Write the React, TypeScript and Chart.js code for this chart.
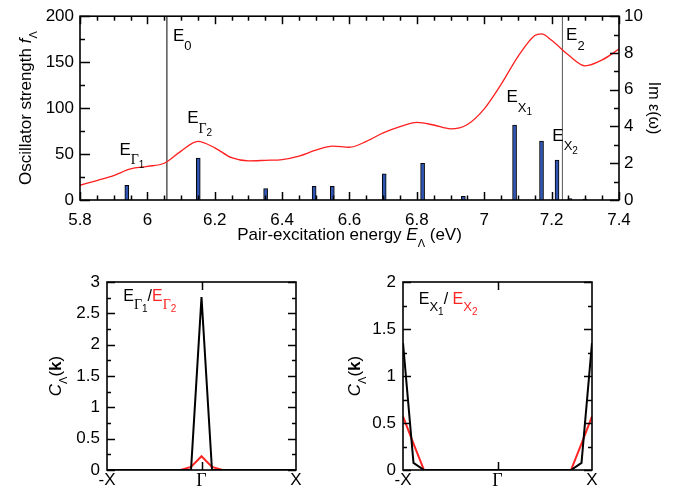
import { useEffect, useRef } from "react";
import { Chart, registerables } from "chart.js";

Chart.register(...registerables);

const SANS = '"Liberation Sans", Arial, Helvetica, sans-serif';
const SERIF = '"Liberation Serif", "Times New Roman", serif';

// ---------- Top panel data ----------
const transitionEnergies = [5.939, 6.151, 6.351, 6.495, 6.549, 6.703, 6.817, 6.938, 7.09, 7.17, 7.216, 7.254, 7.299];
const oscillatorStrengths = [16, 45.5, 12.5, 15, 15, 28.5, 40, 4, 81.5, 64, 43.5, 1.5, 1];

const spectrumEnergies = [
  5.8, 5.85, 5.9, 5.95, 6.0, 6.05, 6.1, 6.15, 6.2, 6.25, 6.3, 6.35, 6.4, 6.45, 6.5, 6.55, 6.6,
  6.65, 6.7, 6.75, 6.8, 6.85, 6.9, 6.95, 7.0, 7.05, 7.1, 7.15, 7.17, 7.2, 7.25, 7.3, 7.35, 7.4,
];
const imEpsilon = [
  0.8, 1.06, 1.33, 1.69, 1.83, 2.0, 2.66, 3.19, 2.84, 2.3, 2.13, 2.16, 2.2, 2.39, 2.71, 2.93, 2.87,
  3.19, 3.65, 3.99, 4.22, 4.08, 3.87, 4.11, 4.96, 6.29, 7.8, 8.95, 9.04, 8.69, 7.89, 7.3, 7.62, 8.21,
];

const criticalPointEnergies = [6.058, 7.232];
const criticalPointNames = ["E0", "E2"];

// annotation labels: [text, role] pieces, anchored in data units (x in eV, y in f units)
const topLabelX = [6.076, 5.917, 6.118, 7.066, 7.202, 7.243];
const topLabelY = [173.5, 49, 83.5, 106.5, 64.5, 173.7];
const topLabelParts: [string, string][][] = [
  [["E", "main"], ["0", "sub"]],
  [["E", "main"], ["Γ", "subG"], ["1", "subsub"]],
  [["E", "main"], ["Γ", "subG"], ["2", "subsub"]],
  [["E", "main"], ["X", "sub"], ["1", "subsub"]],
  [["E", "main"], ["X", "sub"], ["2", "subsub"]],
  [["E", "main"], ["2", "sub"]],
];

// ---------- Bottom panels data ----------
const kPath = [
  -1, -0.889, -0.778, -0.667, -0.556, -0.444, -0.333, -0.222, -0.111, 0,
  0.111, 0.222, 0.333, 0.444, 0.556, 0.667, 0.778, 0.889, 1,
];
const cGamma1 = [0, 0, 0, 0, 0, 0, 0, 0, 0, 2.76, 0, 0, 0, 0, 0, 0, 0, 0, 0];
const cGamma2 = [0, 0, 0, 0, 0, 0, 0, 0, 0.05, 0.22, 0.05, 0, 0, 0, 0, 0, 0, 0, 0];
const cX1 = [1.35, 0.075, 0, 0, 0, 0, 0, 0, 0, 0, 0, 0, 0, 0, 0, 0, 0, 0.075, 1.35];
const cX2 = [0.57, 0.28, 0, 0, 0, 0, 0, 0, 0, 0, 0, 0, 0, 0, 0, 0, 0, 0.28, 0.57];
const kTickLabels = ["-X", "Γ", "X"];

// ---------- helpers ----------
type Seg = { t: string; font: string; color?: string; dy?: number };

function drawRich(ctx: CanvasRenderingContext2D, segs: Seg[], x: number, y: number, align: "left" | "center", rot = 0) {
  ctx.save();
  ctx.translate(x, y);
  ctx.rotate(rot);
  ctx.textAlign = "left";
  ctx.textBaseline = "alphabetic";
  let w = 0;
  for (const s of segs) {
    ctx.font = s.font;
    w += ctx.measureText(s.t).width;
  }
  let cx = align === "center" ? -w / 2 : 0;
  for (const s of segs) {
    ctx.font = s.font;
    ctx.fillStyle = s.color || "#000";
    ctx.fillText(s.t, cx, s.dy || 0);
    cx += ctx.measureText(s.t).width;
  }
  ctx.restore();
}

function roleSeg(t: string, role: string, color = "#000", big = true): Seg {
  const m = big ? 17 : 16;
  if (role === "main") return { t, font: `${m}px ${SANS}`, color };
  if (role === "sub") return { t, font: `${big ? 13 : 13}px ${SANS}`, color, dy: big ? 9.5 : 7.5 };
  if (role === "subG") return { t, font: `${big ? 14 : 14}px ${SERIF}`, color, dy: big ? 9.5 : 7.8 };
  if (role === "subsub") return { t, font: `${big ? 10 : 10}px ${SANS}`, color, dy: big ? 13 : 11 };
  return { t, font: `${m}px ${SANS}`, color, dy: 0 };
}

const isMult = (v: number, step: number) => Math.abs(v / step - Math.round(v / step)) < 1e-6;
const fmt = (v: number) => String(Math.round(v * 100) / 100);

type TickSpec = { id: string; sides: string[]; major: number; minor: number; isMajor: (v: number) => boolean };

function drawFrameTicks(chart: any, specs: TickSpec[]) {
  const { ctx, chartArea: ca } = chart;
  ctx.save();
  ctx.strokeStyle = "#000";
  ctx.lineWidth = 1.5;
  for (const spec of specs) {
    const scale = chart.scales[spec.id];
    for (const t of scale.ticks) {
      const len = spec.isMajor(t.value) ? spec.major : spec.minor;
      if (len <= 0) continue;
      const p = Math.round(scale.getPixelForValue(t.value)) + 0.5;
      for (const side of spec.sides) {
        ctx.beginPath();
        if (side === "bottom") { ctx.moveTo(p, ca.bottom); ctx.lineTo(p, ca.bottom - len); }
        if (side === "top") { ctx.moveTo(p, ca.top); ctx.lineTo(p, ca.top + len); }
        if (side === "left") { ctx.moveTo(ca.left, p); ctx.lineTo(ca.left + len, p); }
        if (side === "right") { ctx.moveTo(ca.right, p); ctx.lineTo(ca.right - len, p); }
        ctx.stroke();
      }
    }
  }
  ctx.lineWidth = 1.6;
  ctx.strokeRect(ca.left, ca.top, ca.right - ca.left, ca.bottom - ca.top);
  ctx.restore();
}

const tickFont = { family: SANS, size: 17 };

function TopChart() {
  const ref = useRef<HTMLCanvasElement>(null);
  useEffect(() => {
    const overlay = {
      id: "topOverlay",
      afterDatasetsDraw(chart: any) {
        drawFrameTicks(chart, [
          { id: "x", sides: ["bottom", "top"], major: 8, minor: 4.5, isMajor: (v) => isMult(v, 0.2) },
          { id: "y", sides: ["left"], major: 10, minor: 5, isMajor: (v) => isMult(v, 50) },
          { id: "y2", sides: ["right"], major: 9, minor: 5, isMajor: (v) => isMult(v, 2) },
        ]);
        const ctx = chart.ctx;
        const xs = chart.scales.x, ys = chart.scales.y;
        topLabelParts.forEach((parts, i) => {
          const segs = parts.map(([t, r]) => roleSeg(t, r));
          drawRich(ctx, segs, xs.getPixelForValue(topLabelX[i]), ys.getPixelForValue(topLabelY[i]), "left");
        });
        const ca = chart.chartArea;
        drawRich(ctx, [
          { t: "Pair-excitation energy ", font: `17px ${SANS}` },
          { t: "E", font: `italic 17px ${SANS}` },
          { t: "Λ", font: `11px ${SANS}`, dy: 6.5 },
          { t: " (eV)", font: `17px ${SANS}` },
        ], (ca.left + ca.right) / 2, 240, "center");
        drawRich(ctx, [
          { t: "Oscillator strength ", font: `17px ${SANS}` },
          { t: "f", font: `italic 17px ${SANS}` },
          { t: "Λ", font: `11px ${SANS}`, dy: 6 },
        ], 31, (ca.top + ca.bottom) / 2, "center", -Math.PI / 2);
        drawRich(ctx, [
          { t: "Im ", font: `16px ${SANS}` },
          { t: "ε(ω)", font: `16px ${SANS}` },
        ], 649, (ca.top + ca.bottom) / 2, "center", Math.PI / 2);
      },
    };
    const chart = new Chart(ref.current!, {
      type: "bar",
      data: {
        datasets: [
          {
            type: "line",
            label: "Im ε(ω)",
            data: spectrumEnergies.map((x, i) => ({ x, y: imEpsilon[i] })),
            yAxisID: "y2",
            borderColor: "#ff1f1f",
            borderWidth: 1.3,
            pointRadius: 0,
            cubicInterpolationMode: "monotone",
            order: 2,
          } as any,
          {
            type: "line",
            label: criticalPointNames[0],
            data: [{ x: criticalPointEnergies[0], y: 0 }, { x: criticalPointEnergies[0], y: 200 }],
            yAxisID: "y",
            borderColor: "#000",
            borderWidth: 1,
            pointRadius: 0,
            order: 3,
          } as any,
          {
            type: "line",
            label: criticalPointNames[1],
            data: [{ x: criticalPointEnergies[1], y: 0 }, { x: criticalPointEnergies[1], y: 200 }],
            yAxisID: "y",
            borderColor: "#555",
            borderWidth: 1,
            pointRadius: 0,
            order: 3,
          } as any,
          {
            type: "bar",
            label: "f",
            data: transitionEnergies.map((x, i) => ({ x, y: oscillatorStrengths[i] })),
            yAxisID: "y",
            backgroundColor: "#2f55b0",
            borderColor: "#000",
            borderWidth: 1,
            barThickness: 4,
            order: 1,
          } as any,
        ],
      },
      options: {
        animation: false,
        responsive: false,
        devicePixelRatio: 1,
        events: [],
        layout: { padding: { top: 12, left: 0, right: 0, bottom: 0 } },
        plugins: { legend: { display: false }, tooltip: { enabled: false } },
        scales: {
          x: {
            type: "linear",
            min: 5.8,
            max: 7.4,
            offset: false,
            grid: { display: false, drawTicks: false },
            border: { display: false },
            ticks: {
              stepSize: 0.05,
              autoSkip: false,
              maxRotation: 0,
              minRotation: 0,
              padding: 10,
              color: "#000",
              font: tickFont,
              callback: (v: any) => (isMult(v, 0.2) ? fmt(v) : ""),
            },
            afterFit: (s: any) => { s.height = 60; },
          },
          y: {
            type: "linear",
            position: "left",
            min: 0,
            max: 200,
            grid: { display: false, drawTicks: false },
            border: { display: false },
            ticks: {
              stepSize: 25,
              autoSkip: false,
              padding: 6,
              color: "#000",
              font: tickFont,
              callback: (v: any) => (isMult(v, 50) ? fmt(v) : ""),
            },
            afterFit: (s: any) => { s.width = 80; },
          },
          y2: {
            type: "linear",
            position: "right",
            min: 0,
            max: 10,
            grid: { display: false, drawTicks: false },
            border: { display: false },
            ticks: {
              stepSize: 1,
              autoSkip: false,
              padding: 5,
              color: "#000",
              font: tickFont,
              callback: (v: any) => (isMult(v, 2) ? fmt(v) : ""),
            },
            afterFit: (s: any) => { s.width = 55; },
          },
        },
      } as any,
      plugins: [overlay],
    });
    return () => chart.destroy();
  }, []);
  return <canvas ref={ref} width={674} height={260} style={{ position: "absolute", left: 0, top: 0, width: 674, height: 260 }} />;
}

type BottomProps = {
  left: number;
  black: number[];
  red: number[];
  ymax: number;
  yWidth: number;
  rightPad: number;
  titleX: number;
  legend: Seg[];
  legendX: number;
  legendY: number;
};

function BottomChart(p: BottomProps) {
  const ref = useRef<HTMLCanvasElement>(null);
  useEffect(() => {
    const overlay = {
      id: "bottomOverlay",
      afterDatasetsDraw(chart: any) {
        drawFrameTicks(chart, [
          { id: "x", sides: ["bottom", "top"], major: 8, minor: 0, isMajor: (v) => v === 0 },
          { id: "y", sides: ["left", "right"], major: 8, minor: 4, isMajor: (v) => isMult(v, 0.5) },
        ]);
        const ctx = chart.ctx;
        const ca = chart.chartArea;
        drawRich(ctx, p.legend, chart.scales.x.getPixelForValue(p.legendX), chart.scales.y.getPixelForValue(p.legendY), "left");
        drawRich(ctx, [
          { t: "C", font: `italic 17px ${SANS}` },
          { t: "Λ", font: `11px ${SANS}`, dy: 5.5 },
          { t: "(", font: `17px ${SANS}` },
          { t: "k", font: `bold 17px ${SANS}` },
          { t: ")", font: `17px ${SANS}` },
        ], p.titleX, (ca.top + ca.bottom) / 2, "center", -Math.PI / 2);
      },
    };
    const chart = new Chart(ref.current!, {
      type: "line",
      data: {
        datasets: [
          {
            label: "red",
            data: kPath.map((x, i) => ({ x, y: p.red[i] })),
            borderColor: "#ff2424",
            borderWidth: 2,
            pointRadius: 0,
            tension: 0,
            order: 2,
          },
          {
            label: "black",
            data: kPath.map((x, i) => ({ x, y: p.black[i] })),
            borderColor: "#000",
            borderWidth: 2,
            pointRadius: 0,
            tension: 0,
            order: 1,
          },
        ],
      },
      options: {
        animation: false,
        responsive: false,
        devicePixelRatio: 1,
        events: [],
        layout: { padding: { top: 22, left: 0, right: p.rightPad, bottom: 0 } },
        plugins: { legend: { display: false }, tooltip: { enabled: false } },
        scales: {
          x: {
            type: "linear",
            min: -1,
            max: 1,
            grid: { display: false, drawTicks: false },
            border: { display: false },
            ticks: {
              stepSize: 1,
              autoSkip: false,
              maxRotation: 0,
              minRotation: 0,
              padding: 0,
              color: "#000",
              font: (c: any) => (c.tick && c.tick.value === 0 ? { family: SERIF, size: 18 } : { family: SANS, size: 17 }),
              callback: (v: any) => kTickLabels[Math.round(v) + 1],
            },
            afterFit: (s: any) => { s.height = 21; },
          },
          y: {
            type: "linear",
            min: 0,
            max: p.ymax,
            grid: { display: false, drawTicks: false },
            border: { display: false },
            ticks: {
              stepSize: 0.25,
              autoSkip: false,
              padding: 7,
              color: "#000",
              font: tickFont,
              callback: (v: any) => (isMult(v, 0.5) ? fmt(v) : ""),
            },
            afterFit: (s: any) => { s.width = p.yWidth; },
          },
        },
      } as any,
      plugins: [overlay],
    });
    return () => chart.destroy();
  }, []);
  return <canvas ref={ref} width={337} height={231} style={{ position: "absolute", left: p.left, top: 260, width: 337, height: 231 }} />;
}

export default function App() {
  const legendG: Seg[] = [
    roleSeg("E", "main", "#000", false),
    roleSeg("Γ", "subG", "#000", false),
    roleSeg("1", "subsub", "#000", false),
    { t: "/", font: `16px ${SANS}`, color: "#000" },
    roleSeg("E", "main", "#ff2424", false),
    roleSeg("Γ", "subG", "#ff2424", false),
    roleSeg("2", "subsub", "#ff2424", false),
  ];
  const legendX: Seg[] = [
    roleSeg("E", "main", "#000", false),
    roleSeg("X", "sub", "#000", false),
    roleSeg("1", "subsub", "#000", false),
    { t: "/ ", font: `16px ${SANS}`, color: "#000" },
    roleSeg("E", "main", "#ff2424", false),
    roleSeg("X", "sub", "#ff2424", false),
    roleSeg("2", "subsub", "#ff2424", false),
  ];
  return (
    <div style={{ position: "absolute", left: 0, top: 0, width: 674, height: 491, background: "#fff" }}>
      <TopChart />
      <BottomChart left={0} black={cGamma1} red={cGamma2} ymax={3} yWidth={107} rightPad={41} titleX={61} legend={legendG} legendX={-0.828} legendY={2.7} />
      <BottomChart left={337} black={cX1} red={cX2} ymax={2} yWidth={66} rightPad={82} titleX={23} legend={legendX} legendX={-0.833} legendY={1.77} />
    </div>
  );
}
